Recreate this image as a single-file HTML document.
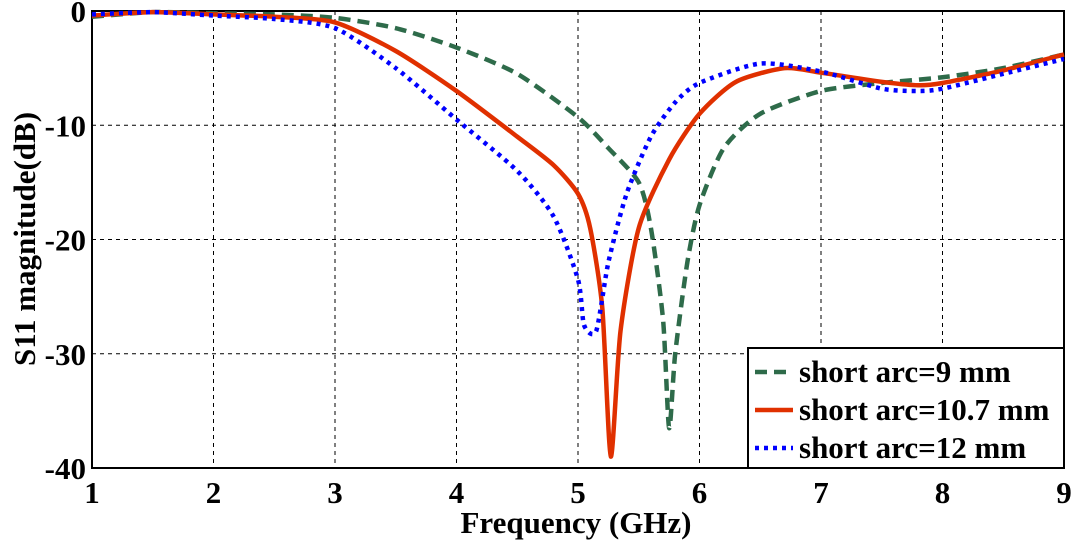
<!DOCTYPE html>
<html><head><meta charset="utf-8"><style>
body{margin:0;background:#fff}
svg text{font-family:"Liberation Serif",serif;font-weight:bold}
</style></head><body>
<svg id="c" width="1076" height="541"></svg>
<script>
const xTicks=[1,2,3,4,5,6,7,8,9];
const yTicks=[0,-10,-20,-30,-40];
const f9=[1,1.5,2,2.5,3,3.5,4,4.5,5,5.25,5.5,5.6,5.7,5.75,5.8,5.9,6,6.2,6.5,7,7.5,8,8.5,9];
const s9=[-0.5,-0.1,-0.2,-0.3,-0.6,-1.5,-3.2,-5.5,-9.3,-12,-15,-19,-27,-36.5,-30,-22,-17,-12,-9,-7,-6.3,-5.8,-5,-3.8];
const f107=[1,1.5,2,2.5,3,3.5,4,4.5,4.8,5,5.1,5.2,5.27,5.35,5.5,5.75,6,6.3,6.7,7,7.5,7.8,8,8.5,9];
const s107=[-0.4,-0.1,-0.3,-0.5,-1,-3.5,-7,-11,-13.5,-16,-19,-26,-39,-28,-19,-13,-9,-6.2,-5,-5.4,-6.2,-6.5,-6.3,-5.2,-3.8];
const f12=[1,1.5,2,2.5,3,3.5,4,4.5,4.8,5,5.05,5.15,5.25,5.4,5.6,5.8,6,6.5,7,7.5,7.8,8,8.5,9];
const s12=[-0.3,-0.1,-0.4,-0.7,-1.5,-5,-9.5,-14,-18,-23.5,-27.5,-28,-22,-16,-11,-8,-6.3,-4.6,-5.3,-6.8,-7,-6.8,-5.5,-4.2];
const X0=92,X1=1064,Y0=11,Y1=468;
const sx=v=>X0+(v-1)/8*(X1-X0), sy=v=>Y0+(-v)/40*(Y1-Y0);
const svg=document.getElementById('c');const NS='http://www.w3.org/2000/svg';
function mk(t,a,p){const e=document.createElementNS(NS,t);for(const k in a)e.setAttribute(k,a[k]);(p||svg).appendChild(e);return e;}
function pathD(f,s){
 const P=f.map((v,i)=>[sx(v),sy(s[i])]);let d='M'+P[0][0]+','+P[0][1];
 for(let i=0;i<P.length-1;i++){
  const p0=P[Math.max(0,i-1)],p1=P[i],p2=P[i+1],p3=P[Math.min(P.length-1,i+2)];const k=0.12;
  d+=' C'+(p1[0]+(p2[0]-p0[0])*k)+','+(p1[1]+(p2[1]-p0[1])*k)+' '+(p2[0]-(p3[0]-p1[0])*k)+','+(p2[1]-(p3[1]-p1[1])*k)+' '+p2[0]+','+p2[1];
 }
 return d;
}
xTicks.forEach(t=>{
 if(t>1&&t<9){const g=mk('line',{x1:sx(t),x2:sx(t),y1:Y0,y2:Y1,stroke:'#000','stroke-dasharray':'4,4','stroke-width':1});
 
 }
 const l=mk('text',{x:sx(t),y:503,'text-anchor':'middle','font-size':31});l.textContent=t;
 
 
});
yTicks.forEach(t=>{
 if(t<0&&t>-40){const g=mk('line',{x1:X0,x2:X1,y1:sy(t),y2:sy(t),stroke:'#000','stroke-dasharray':'4,4','stroke-width':1});
 
 }
 const l=mk('text',{x:86,y:sy(t)+11,'text-anchor':'end','font-size':31});l.textContent=t;
 
 
});
const fr=mk('rect',{x:X0,y:Y0,width:X1-X0,height:Y1-Y0,fill:'none',stroke:'#000','stroke-width':2});


const series=[[f9,s9,'#2e6b4a','12,7','series-9mm'],[f107,s107,'#e03000','','series-10-7mm'],[f12,s12,'#0000ff','4,5','series-12mm']];
series.forEach(([f,s,c,d,n])=>{
 const p=mk('path',{d:pathD(f,s),fill:'none',stroke:c,'stroke-width':4.5,'stroke-dasharray':d,'stroke-linejoin':'round'});
 
 
});
const lg=mk('g',{});


mk('rect',{x:748,y:348,width:316,height:120,fill:'#fff',stroke:'#000','stroke-width':2},lg);
const names=['short arc=9 mm','short arc=10.7 mm','short arc=12 mm'];
series.forEach(([f,s,c,d],i)=>{
 const y=372+i*38;
 mk('line',{x1:755,x2:793,y1:y,y2:y,stroke:c,'stroke-width':4.5,'stroke-dasharray':d},lg);
 const t=mk('text',{x:799,y:y+10,'font-size':31},lg);t.textContent=names[i];
 
 
});
const xt=mk('text',{x:576,y:533,'text-anchor':'middle','font-size':31});xt.textContent='Frequency (GHz)';


const yt=mk('text',{x:0,y:0,'text-anchor':'middle','font-size':31,transform:'translate(35,239) rotate(-90)'});yt.textContent='S11 magnitude(dB)';


</script>
</body></html>
